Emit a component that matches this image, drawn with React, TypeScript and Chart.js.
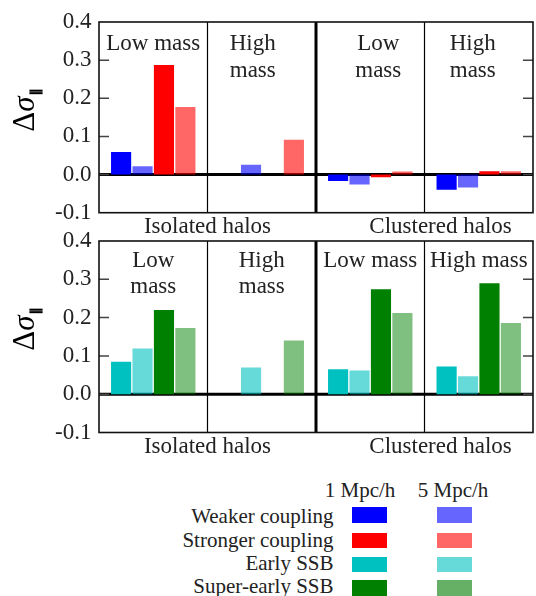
import React, { useEffect, useRef } from "react";
import { Chart, registerables } from "chart.js";

Chart.register(...registerables);

// ---------------- data ----------------
const groups = ["Isolated, low mass", "Isolated, high mass", "Clustered, low mass", "Clustered, high mass"];
const topGroupLabels = [["Low mass"], ["High", "mass"], ["Low", "mass"], ["High", "mass"]];
const bottomGroupLabels = [["Low", "mass"], ["High", "mass"], ["Low mass"], ["High mass"]];
const haloLabels = ["Isolated halos", "Clustered halos"];
const yTicks = [-0.1, 0.0, 0.1, 0.2, 0.3, 0.4];
const scaleHeaders = ["1 Mpc/h", "5 Mpc/h"];
const modelNames = ["Weaker coupling", "Stronger coupling", "Early SSB", "Super-early SSB"];

const weaker1 = [0.059, null, -0.017, -0.040];
const weaker5 = [0.022, 0.026, -0.026, -0.034];
const stronger1 = [0.287, null, -0.007, 0.009];
const stronger5 = [0.177, 0.091, 0.008, 0.009];
const early1 = [0.085, null, 0.065, 0.072];
const early5 = [0.119, 0.070, 0.062, 0.047];
const superEarly1 = [0.220, null, 0.274, 0.290];
const superEarly5 = [0.173, 0.140, 0.212, 0.186];

// ---------------- styles ----------------
const FONT = "'Liberation Serif', 'Times New Roman', serif";
const TEXT = "#222";
const barColors = {
  weaker: ["#0000ff", "rgba(0,0,255,0.6)"],
  stronger: ["#ff0000", "rgba(255,0,0,0.6)"],
  early: ["#00c0c0", "rgba(0,192,192,0.6)"],
  superEarly: ["#008000", "rgba(0,128,0,0.5)"],
};
const swatchColors = [
  ["#0000ff", "#6666ff"],
  ["#ff0000", "#ff6666"],
  ["#00c0c0", "#66d9d9"],
  ["#008000", "#66b066"],
];

const panelPlugin = {
  id: "panel",
  beforeDatasetsDraw(chart: any) {
    const { ctx, chartArea: a, scales } = chart;
    const x = scales.x;
    const y = scales.y;
    const n = chart.data.labels.length;
    ctx.save();
    ctx.strokeStyle = "#000";
    for (let i = 1; i < n; i++) {
      const px = (x.getPixelForValue(i - 1) + x.getPixelForValue(i)) / 2;
      const lw = i === n / 2 ? 3 : 1.2;
      ctx.lineWidth = lw;
      ctx.beginPath();
      ctx.moveTo(px, a.top);
      ctx.lineTo(px, a.bottom);
      ctx.stroke();
    }
    const y0 = y.getPixelForValue(0);
    ctx.lineWidth = 3;
    ctx.beginPath();
    ctx.moveTo(a.left, y0);
    ctx.lineTo(a.right, y0);
    ctx.stroke();
    ctx.restore();
  },
  afterDatasetsDraw(chart: any, _args: any, opts: any) {
    const { ctx, chartArea: a, scales } = chart;
    const x = scales.x;
    const y = scales.y;
    ctx.save();
    // inward tick marks
    ctx.strokeStyle = "#444";
    ctx.lineWidth = 1.5;
    y.ticks.forEach((t: any) => {
      const py = y.getPixelForValue(t.value);
      if (py <= a.top + 1 || py >= a.bottom - 1) return;
      ctx.beginPath();
      ctx.moveTo(a.left, py);
      ctx.lineTo(a.left + 10, py);
      ctx.moveTo(a.right, py);
      ctx.lineTo(a.right - 10, py);
      ctx.stroke();
    });
    // frame
    ctx.strokeStyle = "#111";
    ctx.lineWidth = 1.6;
    ctx.strokeRect(a.left, a.top, a.right - a.left, a.bottom - a.top);

    // group labels
    ctx.fillStyle = TEXT;
    ctx.font = `23px ${FONT}`;
    ctx.textAlign = "center";
    ctx.textBaseline = "alphabetic";
    const labels: string[][] = opts.groupLabels;
    labels.forEach((lines, i) => {
      const cx = x.getPixelForValue(i) + ((opts.labelShift && opts.labelShift[i]) || 0);
      lines.forEach((line, j) => {
        ctx.fillText(line, cx, a.top + opts.labelTop + j * opts.lineGap);
      });
    });
    // halo labels
    haloLabels.forEach((lab, j) => {
      ctx.fillText(lab, a.left + opts.haloPos[j] * (a.right - a.left), a.bottom + 20.5);
    });

    // y title  Δσ||
    ctx.translate(34, a.top + opts.titleCenter);
    ctx.rotate(-Math.PI / 2);
    ctx.fillStyle = "#000";
    ctx.strokeStyle = "#000";
    ctx.textAlign = "left";
    ctx.font = `31px ${FONT}`;
    const wD = ctx.measureText("Δ").width;
    ctx.font = `italic 31px ${FONT}`;
    const wS = ctx.measureText("σ").width;
    ctx.font = `bold 12px ${FONT}`;
    const wP = ctx.measureText("||").width;
    let lx = -(wD + wS + 2 + wP) / 2;
    ctx.font = `31px ${FONT}`;
    ctx.fillText("Δ", lx, 0);
    lx += wD;
    ctx.font = `italic 31px ${FONT}`;
    ctx.fillText("σ", lx, 0);
    lx += wS + 2;
    ctx.font = `bold 12px ${FONT}`;
    ctx.lineWidth = 1.2;
    ctx.fillText("||", lx, 5.2);
    ctx.strokeText("||", lx, 5.2);
    ctx.restore();
  },
};

type PanelProps = {
  top: number;
  height: number;
  padTop: number;
  padBottom: number;
  datasets: any[];
  pluginOpts: any;
};

function Panel({ top, height, padTop, padBottom, datasets, pluginOpts }: PanelProps) {
  const ref = useRef<HTMLCanvasElement | null>(null);
  useEffect(() => {
    if (!ref.current) return;
    const chart = new Chart(ref.current, {
      type: "bar",
      data: { labels: groups, datasets },
      options: {
        animation: false,
        responsive: false,
        devicePixelRatio: 1,
        layout: { padding: { top: padTop, bottom: padBottom, left: 0, right: 3 } },
        datasets: { bar: { categoryPercentage: 0.79, barPercentage: 0.94, borderWidth: 0 } },
        plugins: {
          legend: { display: false },
          tooltip: { enabled: false },
          panel: pluginOpts,
        } as any,
        scales: {
          x: { display: false },
          y: {
            min: -0.1,
            max: 0.4,
            afterBuildTicks: (s: any) => {
              s.ticks = yTicks.map((v) => ({ value: v }));
            },
            afterFit: (s: any) => {
              s.width = 99;
            },
            grid: { display: false, drawTicks: false },
            border: { display: false },
            ticks: {
              padding: 7.5,
              color: TEXT,
              font: { family: FONT, size: 23 },
              callback: (v: any) => Number(v).toFixed(1),
            },
          },
        },
      },
      plugins: [panelPlugin as any],
    });
    return () => chart.destroy();
  }, []);
  return (
    <canvas
      ref={ref}
      width={536}
      height={height}
      style={{ position: "absolute", left: 0, top, width: 536, height }}
    />
  );
}

function ds(label: string, data: (number | null)[], color: string) {
  return { label, data, backgroundColor: color, borderWidth: 0 };
}

const topDatasets = [
  ds("Weaker coupling 1 Mpc/h", weaker1, barColors.weaker[0]),
  ds("Weaker coupling 5 Mpc/h", weaker5, barColors.weaker[1]),
  ds("Stronger coupling 1 Mpc/h", stronger1, barColors.stronger[0]),
  ds("Stronger coupling 5 Mpc/h", stronger5, barColors.stronger[1]),
];
const bottomDatasets = [
  ds("Early SSB 1 Mpc/h", early1, barColors.early[0]),
  ds("Early SSB 5 Mpc/h", early5, barColors.early[1]),
  ds("Super-early SSB 1 Mpc/h", superEarly1, barColors.superEarly[0]),
  ds("Super-early SSB 5 Mpc/h", superEarly5, barColors.superEarly[1]),
];

const legendBaselines = [524, 547.7, 571, 594];
const swatchTops = [507.3, 532.5, 556.5, 580];
const swatchLefts = [352, 437];
const headerCenters = [360, 453];
const LEGEND_ASCENT = 17.6;

export default function App() {
  const textStyle: React.CSSProperties = {
    position: "absolute",
    fontFamily: FONT,
    fontSize: 21,
    lineHeight: "21px",
    color: TEXT,
    whiteSpace: "nowrap",
  };
  return (
    <div style={{ position: "absolute", left: 0, top: 0, width: 536, height: 596, background: "#fff", overflow: "hidden" }}>
      <Panel
        top={0}
        height={240}
        padTop={22}
        padBottom={27.3}
        datasets={topDatasets}
        pluginOpts={{
          groupLabels: topGroupLabels,
          labelShift: [0, -9, 8, -6],
          labelTop: 28,
          lineGap: 27,
          haloPos: [0.25, 0.787],
          titleCenter: 88.5,
        }}
      />
      <Panel
        top={218}
        height={252}
        padTop={23}
        padBottom={37.5}
        datasets={bottomDatasets}
        pluginOpts={{
          groupLabels: bottomGroupLabels,
          labelShift: [0, 0, 0, 0],
          labelTop: 25.5,
          lineGap: 26,
          haloPos: [0.25, 0.787],
          titleCenter: 88.5,
        }}
      />
      {scaleHeaders.map((h, i) => (
        <div key={h} style={{ ...textStyle, left: headerCenters[i] - 60, width: 120, textAlign: "center", top: 497.3 - LEGEND_ASCENT }}>
          {h}
        </div>
      ))}
      {modelNames.map((name, i) => (
        <React.Fragment key={name}>
          <div style={{ ...textStyle, left: 0, width: 333.5, textAlign: "right", top: legendBaselines[i] - LEGEND_ASCENT }}>{name}</div>
          {swatchLefts.map((l, k) => (
            <div
              key={k}
              style={{ position: "absolute", left: l, top: swatchTops[i], width: 35, height: 15.5, background: swatchColors[i][k] }}
            />
          ))}
        </React.Fragment>
      ))}
    </div>
  );
}
